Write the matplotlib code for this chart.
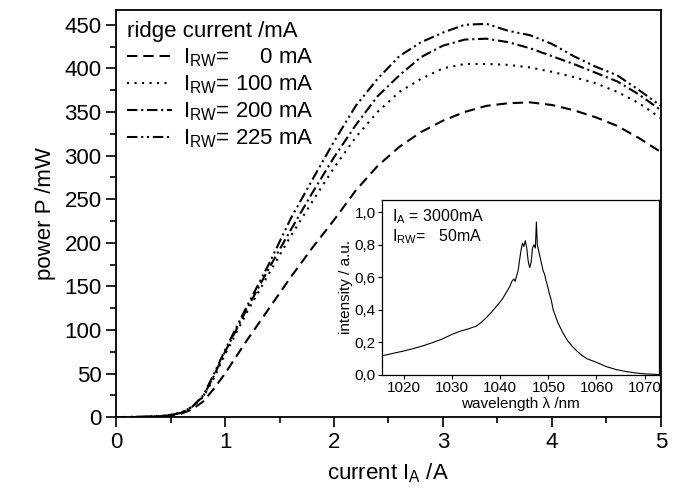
import matplotlib
matplotlib.use("Agg")
import matplotlib.pyplot as plt
from matplotlib.ticker import FuncFormatter, MultipleLocator

plt.rcParams["font.family"] = ["Liberation Sans", "DejaVu Sans"]
plt.rcParams["mathtext.default"] = "regular"

# main plot: output power vs. injection current
current_a = [0.0, 0.2, 0.4, 0.5, 0.6, 0.7, 0.8, 0.9, 1.0, 1.2, 1.4, 1.6, 1.8, 2.0,
             2.2, 2.4, 2.6, 2.8, 3.0, 3.2, 3.4, 3.6, 3.8, 4.0, 4.2, 4.4, 4.6, 4.8, 5.0]
power_0 = [0, 0.2, 0.8, 2, 4, 9, 18, 33, 50, 88, 124, 160, 194, 226,
           260, 288, 310, 327, 340, 350, 357, 360, 361, 358, 352, 344, 334, 320, 304]
power_100 = [0, 0.3, 1, 2.5, 5, 12, 23, 45, 72, 120, 164, 207, 247, 286,
             321, 350, 373, 388, 400, 405, 405, 404, 401, 396, 390, 383, 373, 360, 343]
power_200 = [0, 0.3, 1, 2.5, 5, 12, 24, 48, 75, 124, 170, 214, 257, 298,
             335, 368, 392, 413, 426, 433, 434, 430, 423, 414, 405, 395, 385, 370, 352]
power_225 = [0, 0.3, 1, 2.5, 5, 12, 25, 50, 77, 127, 175, 227, 272, 316,
             357, 388, 414, 430, 441, 450, 451, 443, 438, 428, 414, 402, 392, 375, 357]
ridge_labels = ["$I_{RW}$=     0 mA", "$I_{RW}$= 100 mA", "$I_{RW}$= 200 mA", "$I_{RW}$= 225 mA"]

# inset: emission spectrum at I_A = 3000 mA, I_RW = 50 mA
wavelength_nm = [1015.4, 1018, 1020, 1022, 1024, 1026, 1028, 1030, 1031, 1032, 1033, 1034,
                 1035, 1036, 1037, 1038, 1039, 1040, 1040.5, 1041, 1041.5, 1042, 1042.4,
                 1042.8, 1043.1, 1043.4, 1043.7, 1044.0, 1044.3, 1044.6, 1044.9, 1045.2,
                 1045.5, 1045.8, 1046.1, 1046.4, 1046.7, 1047.0, 1047.3, 1047.5, 1047.7,
                 1048.0, 1048.3, 1048.6, 1048.9, 1049.2, 1049.5, 1049.8, 1050.2, 1050.6,
                 1051, 1051.5, 1052, 1052.5, 1053, 1054, 1055, 1056, 1057, 1058, 1060,
                 1062, 1064, 1066, 1068, 1070, 1073]
intensity = [0.118, 0.135, 0.148, 0.163, 0.180, 0.200, 0.222, 0.250, 0.262, 0.272, 0.280, 0.290,
             0.300, 0.322, 0.350, 0.380, 0.415, 0.450, 0.470, 0.495, 0.520, 0.545, 0.575,
             0.590, 0.575, 0.610, 0.640, 0.705, 0.765, 0.810, 0.790, 0.825,
             0.780, 0.700, 0.660, 0.690, 0.780, 0.800, 0.780, 0.940, 0.800,
             0.760, 0.720, 0.680, 0.640, 0.620, 0.580, 0.550, 0.500, 0.460,
             0.400, 0.360, 0.320, 0.290, 0.260, 0.210, 0.175, 0.145, 0.120, 0.100, 0.078,
             0.052, 0.034, 0.022, 0.013, 0.007, 0.003]

fig = plt.figure(figsize=(6.75, 4.96), dpi=100)
ax = fig.add_axes([0.172, 0.159, 0.807, 0.821])

styles = [(0, (5, 2.8)), (0, (1, 2.6)), (0, (5, 1.8, 1, 1.8)), (0, (5, 1.8, 1, 1.8, 1, 1.8))]
for series, label, ls in zip([power_0, power_100, power_200, power_225], ridge_labels, styles):
    ax.plot(current_a, series, color="black", lw=1.5, linestyle=ls, label=label)

ax.set_xlim(0, 5)
ax.set_ylim(0, 467)
ax.xaxis.set_major_locator(MultipleLocator(1))
ax.xaxis.set_minor_locator(MultipleLocator(0.5))
ax.yaxis.set_major_locator(MultipleLocator(50))
ax.yaxis.set_minor_locator(MultipleLocator(25))
ax.tick_params(which="both", direction="out", top=False, right=False, labelsize=16, width=1.2)
ax.tick_params(which="major", length=7)
ax.tick_params(which="minor", length=4)
for sp in ax.spines.values():
    sp.set_linewidth(1.3)
ax.set_xlabel("current $I_A$ /A", fontsize=16, labelpad=6)
ax.set_ylabel("power P /mW", fontsize=16, labelpad=6)

leg = ax.legend(title="ridge current /mA", loc="upper left", frameon=False, fontsize=16,
                title_fontsize=16, handlelength=2.0, handletextpad=0.5, labelspacing=0.2,
                borderpad=0.3, borderaxespad=0.2, alignment="left")

# inset spectrum
ins = fig.add_axes([382 / 675, (496 - 375) / 496, (659 - 382) / 675, (375 - 200) / 496])
ins.plot(wavelength_nm, intensity, color="black", lw=0.8)
ins.set_xlim(1015.4, 1073)
ins.set_ylim(0, 1.075)
ins.xaxis.set_major_locator(MultipleLocator(10))
ins.yaxis.set_major_locator(MultipleLocator(0.2))
ins.yaxis.set_major_formatter(FuncFormatter(lambda v, p: f"{v:.1f}".replace(".", ",")))
ins.tick_params(direction="out", length=3, labelsize=11, pad=1.5)
for sp in ins.spines.values():
    sp.set_linewidth(0.9)
ins.set_xlabel("wavelength λ /nm", fontsize=11, labelpad=1)
ins.set_ylabel("intensity / a.u.", fontsize=11, labelpad=1)
ins.text(0.035, 0.96, "$I_A$ = 3000mA\n$I_{RW}$=   50mA", transform=ins.transAxes,
         ha="left", va="top", fontsize=11.5, linespacing=1.1)

fig.savefig("out.png", dpi=100)
